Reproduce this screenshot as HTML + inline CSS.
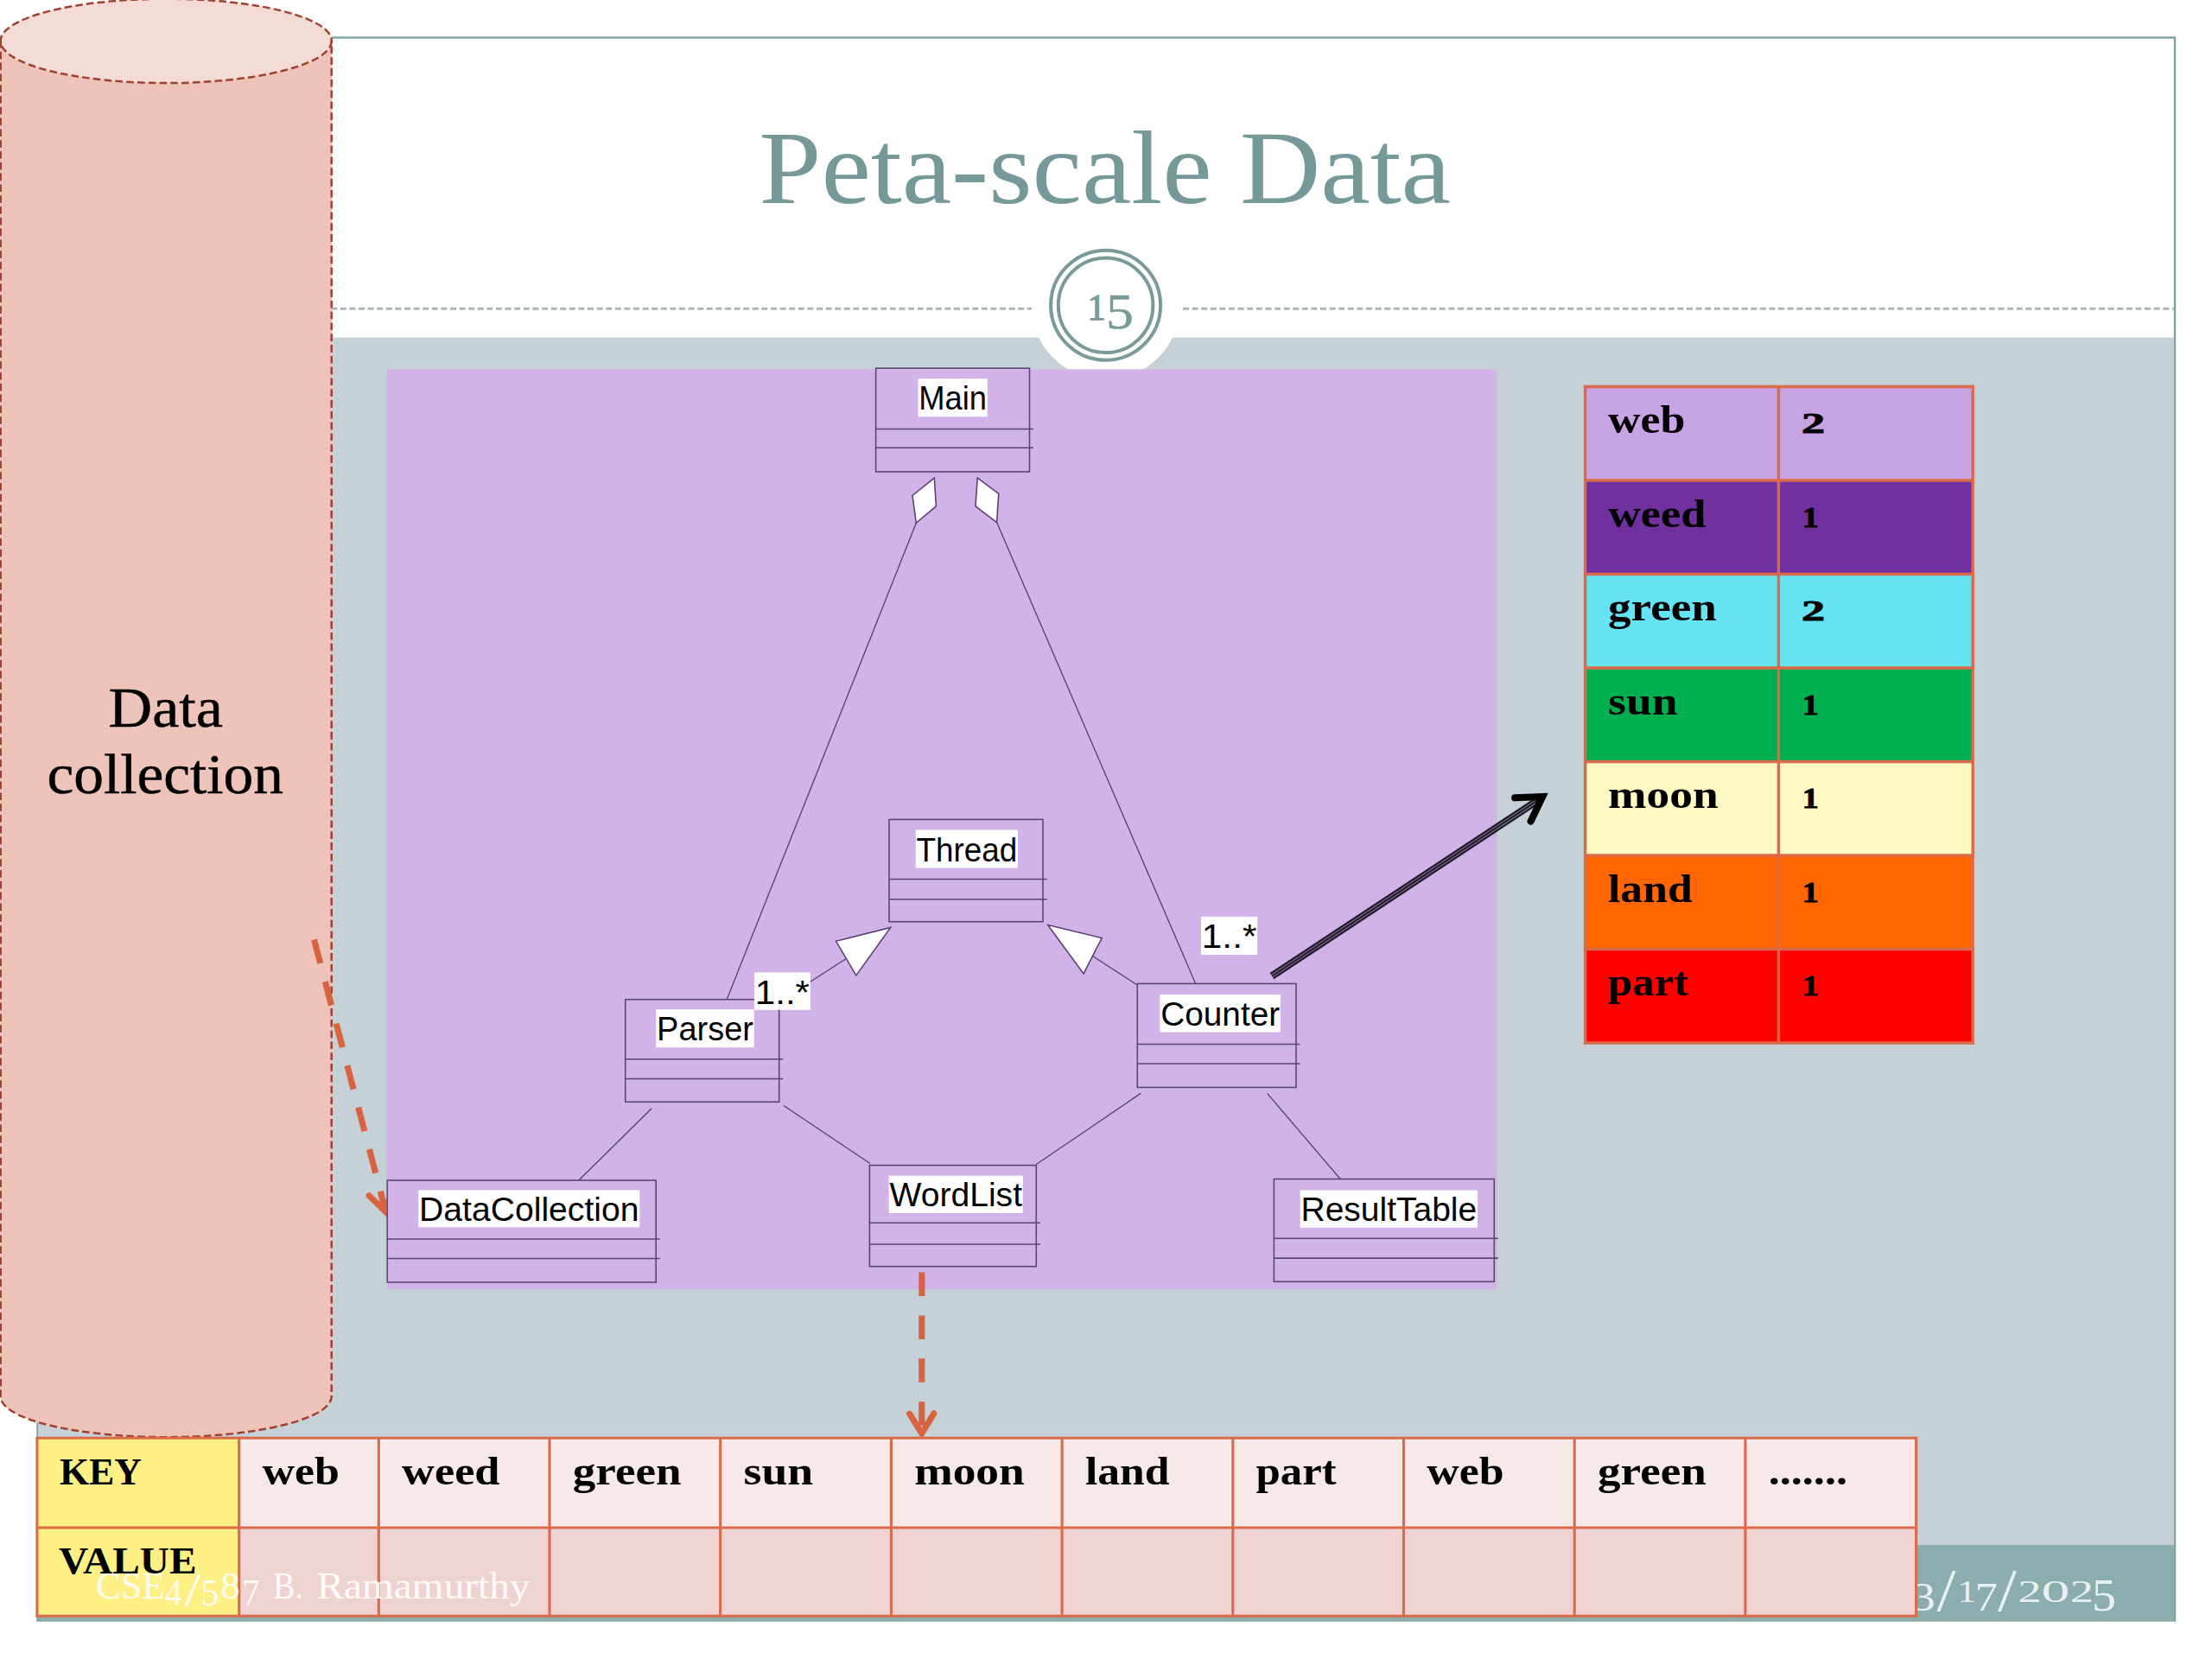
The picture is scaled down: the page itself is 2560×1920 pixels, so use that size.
<!DOCTYPE html>
<html><head><meta charset="utf-8"><title>Peta-scale Data</title>
<style>html,body{margin:0;padding:0;background:#fff;}body{width:2560px;height:1920px;overflow:hidden;position:relative;}svg{position:absolute;left:0;top:0;display:block;}.ser{font-family:"Liberation Serif",serif;}.san{font-family:"Liberation Sans",sans-serif;}.b{font-weight:bold;}</style></head><body>
<svg width="2560" height="1920" viewBox="0 0 2560 1920">
<rect x="0" y="0" width="2560" height="1920" fill="#ffffff"/>
<rect x="43.5" y="43.5" width="2473.5" height="1832" fill="#ffffff" stroke="#7FA1A1" stroke-width="2.4"/>
<rect x="44.5" y="390.6" width="2471.5" height="1398" fill="#C5D1D7"/>
<rect x="44.5" y="1788" width="2471.5" height="87.6" fill="#8CADAE"/>
<line x1="44" y1="357.2" x2="2516" y2="357.2" stroke="#ABB6B8" stroke-width="3" stroke-dasharray="7 3.6"/>
<circle cx="1279.6" cy="353.3" r="86" fill="#ffffff"/>
<circle cx="1279.6" cy="353.3" r="63.5" fill="none" stroke="#7A9A9A" stroke-width="4"/>
<circle cx="1279.6" cy="353.3" r="54.8" fill="none" stroke="#7A9A9A" stroke-width="4"/>
<text class="ser" x="1258.5" y="369.6" font-size="43" fill="#7A9A9A" stroke="#7A9A9A" stroke-width="1.3" textLength="21" lengthAdjust="spacingAndGlyphs">1</text>
<text class="ser" x="1280" y="380" font-size="58" fill="#7A9A9A" stroke="#7A9A9A" stroke-width="0.5" textLength="32" lengthAdjust="spacingAndGlyphs">5</text>
<text class="ser" x="878.5" y="235" font-size="121.5" fill="#759899" textLength="800.5" lengthAdjust="spacingAndGlyphs">Peta-scale Data</text>
<text class="ser" x="2212.5" y="1863.5" font-size="47" fill="#E9F0F0" textLength="27.5" lengthAdjust="spacingAndGlyphs">3</text>
<text class="ser" x="2241.5" y="1864" font-size="69" fill="#E9F0F0" textLength="22" lengthAdjust="spacingAndGlyphs">/</text>
<text class="ser" x="2265.5" y="1854.3" font-size="35" fill="#E9F0F0" textLength="21.5" lengthAdjust="spacingAndGlyphs">1</text>
<text class="ser" x="2285.5" y="1863.5" font-size="47" fill="#E9F0F0" textLength="26.5" lengthAdjust="spacingAndGlyphs">7</text>
<text class="ser" x="2312" y="1864" font-size="69" fill="#E9F0F0" textLength="22" lengthAdjust="spacingAndGlyphs">/</text>
<text class="ser" x="2335.3" y="1854.3" font-size="35" fill="#E9F0F0" textLength="27.3" lengthAdjust="spacingAndGlyphs">2</text>
<text class="ser" x="2362.5" y="1854.3" font-size="35" fill="#E9F0F0" textLength="33" lengthAdjust="spacingAndGlyphs">0</text>
<text class="ser" x="2395.8" y="1854.3" font-size="35" fill="#E9F0F0" textLength="27.3" lengthAdjust="spacingAndGlyphs">2</text>
<text class="ser" x="2421" y="1864" font-size="53" fill="#E9F0F0" textLength="28" lengthAdjust="spacingAndGlyphs">5</text>
<path d="M0,47 A192,48.5 0 0 1 384.4,47 L384.4,1616 A192.2,47.5 0 0 1 0,1616 Z" fill="#EEC3BA"/>
<ellipse cx="192.2" cy="47.4" rx="192.2" ry="49" fill="#F4DBD5"/>
<g fill="none" stroke="#A0412F" stroke-width="2.5" stroke-dasharray="8.6 4.2">
<ellipse cx="192.2" cy="47.4" rx="191.6" ry="48.7"/>
<path d="M0.7,47 L0.7,1616 A191.5,47.2 0 0 0 383.7,1616 L383.7,47"/>
</g>
<text class="ser" x="125.5" y="840.6" font-size="64.5" fill="#000" stroke="#000" stroke-width="0.5" textLength="132.5" lengthAdjust="spacingAndGlyphs">Data</text>
<text class="ser" x="54.5" y="917.5" font-size="64.5" fill="#000" stroke="#000" stroke-width="0.5" textLength="273.5" lengthAdjust="spacingAndGlyphs">collection</text>
<g fill="none" stroke="#D9623F" stroke-width="7.1">
<line x1="363.5" y1="1087.5" x2="446.5" y2="1402.5" stroke-dasharray="28.4 21.8"/>
<polyline points="427.1,1383.7 446.5,1402.5 454.1,1376.6" stroke-linecap="round" stroke-linejoin="miter"/>
</g>
<rect x="447.6" y="427.4" width="1284.9" height="1064.8" fill="#D1B3E9"/>
<line x1="1060.3" y1="605.3" x2="841.2" y2="1156.7" stroke="#553D6B" stroke-width="1.3"/>
<line x1="1153.6" y1="604.6" x2="1383.7" y2="1138.4" stroke="#553D6B" stroke-width="1.3"/>
<line x1="901.7" y1="1159.5" x2="979.2" y2="1109.5" stroke="#553D6B" stroke-width="1.3"/>
<line x1="1316.3" y1="1140" x2="1264.5" y2="1106.5" stroke="#553D6B" stroke-width="1.3"/>
<line x1="754" y1="1283" x2="669.8" y2="1366" stroke="#553D6B" stroke-width="1.3"/>
<line x1="906.9" y1="1279.5" x2="1007" y2="1346.5" stroke="#553D6B" stroke-width="1.3"/>
<line x1="1320.3" y1="1265.4" x2="1199.3" y2="1347.5" stroke="#553D6B" stroke-width="1.3"/>
<line x1="1466.6" y1="1265.4" x2="1551.2" y2="1364.5" stroke="#553D6B" stroke-width="1.3"/>
<polygon points="1081.3,553.2 1083.4,585.8 1060.3,605.3 1056,573.5" fill="#ffffff" stroke="#5C4173" stroke-width="1.6" stroke-linejoin="miter"/>
<polygon points="1131.2,553.2 1155.8,571.3 1153.6,604.6 1129,585.8" fill="#ffffff" stroke="#5C4173" stroke-width="1.6" stroke-linejoin="miter"/>
<polygon points="1030.7,1073.4 967.6,1089.3 990.8,1128.9" fill="#ffffff" stroke="#5C4173" stroke-width="1.6" stroke-linejoin="miter"/>
<polygon points="1212.7,1070.5 1275.2,1085.5 1254.1,1126.9" fill="#ffffff" stroke="#5C4173" stroke-width="1.6" stroke-linejoin="miter"/>
<rect x="1013.6" y="426.2" width="177.9" height="119.8" fill="none" stroke="#5C4173" stroke-width="1.55"/>
<line x1="1013.6" y1="496.4" x2="1196.0" y2="496.4" stroke="#5C4173" stroke-width="1.55"/>
<line x1="1013.6" y1="518.2" x2="1196.0" y2="518.2" stroke="#5C4173" stroke-width="1.55"/>
<rect x="1062.5" y="438.2" width="80.3" height="44.1" fill="#ffffff"/>
<text class="san" x="1063.3" y="474.4" font-size="38.5" fill="#000" textLength="78.7" lengthAdjust="spacingAndGlyphs">Main</text>
<rect x="1029" y="948.4" width="178.0" height="118.3" fill="none" stroke="#5C4173" stroke-width="1.55"/>
<line x1="1029" y1="1017.5" x2="1211.5" y2="1017.5" stroke="#5C4173" stroke-width="1.55"/>
<line x1="1029" y1="1040.7" x2="1211.5" y2="1040.7" stroke="#5C4173" stroke-width="1.55"/>
<rect x="1059.7" y="960.5" width="118.3" height="44.0" fill="#ffffff"/>
<text class="san" x="1060.5" y="996.7" font-size="38.5" fill="#000" textLength="116.7" lengthAdjust="spacingAndGlyphs">Thread</text>
<rect x="723.7" y="1156.7" width="178.0" height="118.6" fill="none" stroke="#5C4173" stroke-width="1.55"/>
<line x1="723.7" y1="1225.8" x2="906.2" y2="1225.8" stroke="#5C4173" stroke-width="1.55"/>
<line x1="723.7" y1="1248.4" x2="906.2" y2="1248.4" stroke="#5C4173" stroke-width="1.55"/>
<rect x="759.3" y="1168.3" width="113.4" height="43.9" fill="#ffffff"/>
<text class="san" x="760.1" y="1204.4" font-size="38.5" fill="#000" textLength="111.8" lengthAdjust="spacingAndGlyphs">Parser</text>
<rect x="1316.3" y="1138.4" width="183.7" height="120.1" fill="none" stroke="#5C4173" stroke-width="1.55"/>
<line x1="1316.3" y1="1208.4" x2="1504.5" y2="1208.4" stroke="#5C4173" stroke-width="1.55"/>
<line x1="1316.3" y1="1231" x2="1504.5" y2="1231" stroke="#5C4173" stroke-width="1.55"/>
<rect x="1342.4" y="1151" width="139.6" height="43.5" fill="#ffffff"/>
<text class="san" x="1343.2" y="1186.7" font-size="38.5" fill="#000" textLength="138.0" lengthAdjust="spacingAndGlyphs">Counter</text>
<rect x="448.2" y="1366" width="311.0" height="118.0" fill="none" stroke="#5C4173" stroke-width="1.55"/>
<line x1="448.2" y1="1434" x2="763.7" y2="1434" stroke="#5C4173" stroke-width="1.55"/>
<line x1="448.2" y1="1456.5" x2="763.7" y2="1456.5" stroke="#5C4173" stroke-width="1.55"/>
<rect x="484.3" y="1377.4" width="256.0" height="43.0" fill="#ffffff"/>
<text class="san" x="485.1" y="1412.8" font-size="38.5" fill="#000" textLength="254.4" lengthAdjust="spacingAndGlyphs">DataCollection</text>
<rect x="1006.4" y="1348.6" width="192.9" height="117.1" fill="none" stroke="#5C4173" stroke-width="1.55"/>
<line x1="1006.4" y1="1415.2" x2="1203.8" y2="1415.2" stroke="#5C4173" stroke-width="1.55"/>
<line x1="1006.4" y1="1440" x2="1203.8" y2="1440" stroke="#5C4173" stroke-width="1.55"/>
<rect x="1028.7" y="1360.6" width="155.1" height="43.4" fill="#ffffff"/>
<text class="san" x="1029.5" y="1396.2" font-size="38.5" fill="#000" textLength="153.5" lengthAdjust="spacingAndGlyphs">WordList</text>
<rect x="1474.4" y="1364.5" width="254.9" height="118.8" fill="none" stroke="#5C4173" stroke-width="1.55"/>
<line x1="1474.4" y1="1433.2" x2="1733.8" y2="1433.2" stroke="#5C4173" stroke-width="1.55"/>
<line x1="1474.4" y1="1456.1" x2="1733.8" y2="1456.1" stroke="#5C4173" stroke-width="1.55"/>
<rect x="1504.7" y="1377.5" width="205.3" height="43.4" fill="#ffffff"/>
<text class="san" x="1505.5" y="1412.8" font-size="38.5" fill="#000" textLength="203.7" lengthAdjust="spacingAndGlyphs">ResultTable</text>
<rect x="873" y="1125.4" width="64.8" height="43.4" fill="#ffffff"/>
<text class="san" x="873.8" y="1161.5" font-size="38.5" fill="#000" textLength="63.2" lengthAdjust="spacingAndGlyphs">1..*</text>
<rect x="1390" y="1060.8" width="65.2" height="44.2" fill="#ffffff"/>
<text class="san" x="1390.8" y="1097" font-size="38.5" fill="#000" textLength="63.6" lengthAdjust="spacingAndGlyphs">1..*</text>
<rect x="1835" y="447.5" width="448" height="108.5" fill="#C9A4E4"/>
<rect x="1835" y="556.0" width="448" height="108.5" fill="#7030A0"/>
<rect x="1835" y="664.5" width="448" height="108.5" fill="#66E3F3"/>
<rect x="1835" y="773.0" width="448" height="108.5" fill="#00B050"/>
<rect x="1835" y="881.5" width="448" height="108.5" fill="#FFF8C3"/>
<rect x="1835" y="990.0" width="448" height="108.5" fill="#FF6600"/>
<rect x="1835" y="1098.5" width="448" height="108.5" fill="#FF0000"/>
<line x1="1832.9" y1="447.5" x2="2284.9" y2="447.5" stroke="#DB6A4B" stroke-width="3.4"/>
<line x1="1832.9" y1="556.0" x2="2284.9" y2="556.0" stroke="#DB6A4B" stroke-width="3.4"/>
<line x1="1832.9" y1="664.5" x2="2284.9" y2="664.5" stroke="#DB6A4B" stroke-width="3.4"/>
<line x1="1832.9" y1="773.0" x2="2284.9" y2="773.0" stroke="#DB6A4B" stroke-width="3.4"/>
<line x1="1832.9" y1="881.5" x2="2284.9" y2="881.5" stroke="#DB6A4B" stroke-width="3.4"/>
<line x1="1832.9" y1="990.0" x2="2284.9" y2="990.0" stroke="#DB6A4B" stroke-width="3.4"/>
<line x1="1832.9" y1="1098.5" x2="2284.9" y2="1098.5" stroke="#DB6A4B" stroke-width="3.4"/>
<line x1="1832.9" y1="1207.0" x2="2284.9" y2="1207.0" stroke="#DB6A4B" stroke-width="3.4"/>
<line x1="1834.6" y1="445.8" x2="1834.6" y2="1208.7" stroke="#DB6A4B" stroke-width="3.4"/>
<line x1="2058.4" y1="445.8" x2="2058.4" y2="1208.7" stroke="#DB6A4B" stroke-width="3.4"/>
<line x1="2283.2" y1="445.8" x2="2283.2" y2="1208.7" stroke="#DB6A4B" stroke-width="3.4"/>
<text class="ser b" x="1861.0" y="501.1" font-size="47" fill="#000" textLength="89.4" lengthAdjust="spacingAndGlyphs">web</text>
<text class="ser b" x="2085.0" y="501.1" font-size="33.5" fill="#000" stroke="#000" stroke-width="0.9" textLength="27" lengthAdjust="spacingAndGlyphs">2</text>
<text class="ser b" x="1861.0" y="609.6" font-size="47" fill="#000" textLength="113.4" lengthAdjust="spacingAndGlyphs">weed</text>
<text class="ser b" x="2085.8" y="609.6" font-size="33" fill="#000" stroke="#000" stroke-width="0.9" textLength="19" lengthAdjust="spacingAndGlyphs">1</text>
<text class="ser b" x="1861.0" y="718.1" font-size="47" fill="#000" textLength="125.8" lengthAdjust="spacingAndGlyphs">green</text>
<text class="ser b" x="2085.0" y="718.1" font-size="33.5" fill="#000" stroke="#000" stroke-width="0.9" textLength="27" lengthAdjust="spacingAndGlyphs">2</text>
<text class="ser b" x="1861.0" y="826.6" font-size="47" fill="#000" textLength="80.6" lengthAdjust="spacingAndGlyphs">sun</text>
<text class="ser b" x="2085.8" y="826.6" font-size="33" fill="#000" stroke="#000" stroke-width="0.9" textLength="19" lengthAdjust="spacingAndGlyphs">1</text>
<text class="ser b" x="1861.0" y="935.1" font-size="47" fill="#000" textLength="127.6" lengthAdjust="spacingAndGlyphs">moon</text>
<text class="ser b" x="2085.8" y="935.1" font-size="33" fill="#000" stroke="#000" stroke-width="0.9" textLength="19" lengthAdjust="spacingAndGlyphs">1</text>
<text class="ser b" x="1861.0" y="1043.6" font-size="47" fill="#000" textLength="97.6" lengthAdjust="spacingAndGlyphs">land</text>
<text class="ser b" x="2085.8" y="1043.6" font-size="33" fill="#000" stroke="#000" stroke-width="0.9" textLength="19" lengthAdjust="spacingAndGlyphs">1</text>
<text class="ser b" x="1861.0" y="1152.1" font-size="47" fill="#000" textLength="93.1" lengthAdjust="spacingAndGlyphs">part</text>
<text class="ser b" x="2085.8" y="1152.1" font-size="33" fill="#000" stroke="#000" stroke-width="0.9" textLength="19" lengthAdjust="spacingAndGlyphs">1</text>
<g stroke="#000" fill="none">
<line x1="1472" y1="1129.6" x2="1783" y2="924.1" stroke="#000" stroke-opacity="0.45" stroke-width="9"/>
<line x1="1470.29" y1="1127.01" x2="1781.29" y2="921.51" stroke="#1a1222" stroke-width="1.7"/>
<line x1="1472.00" y1="1129.60" x2="1783.00" y2="924.10" stroke="#1a1222" stroke-width="1.7"/>
<line x1="1473.71" y1="1132.19" x2="1784.71" y2="926.69" stroke="#1a1222" stroke-width="1.7"/>
<polyline points="1753.2,923.3 1785.2,922 1771.6,950.5" stroke-width="8.1" stroke-linejoin="miter" stroke-linecap="round"/>
</g>
<g fill="none" stroke="#D9623F" stroke-width="7.1">
<line x1="1066.8" y1="1472.5" x2="1066.8" y2="1660" stroke-dasharray="27.5 22.4"/>
<polyline points="1052.6,1636.2 1066.8,1659 1080.8,1635.8" stroke-linecap="round" stroke-linejoin="miter"/>
</g>
<rect x="42.9" y="1664.2" width="233.8" height="206.1" fill="#FFF085"/>
<rect x="276.7" y="1664.2" width="1940.9" height="103.8" fill="#F8E9E9"/>
<rect x="276.7" y="1768" width="1940.9" height="102.3" fill="#EFD3D3"/>
<line x1="41.35" y1="1664.2" x2="2219.2" y2="1664.2" stroke="#DB6A4B" stroke-width="3.1"/>
<line x1="41.35" y1="1768" x2="2219.2" y2="1768" stroke="#DB6A4B" stroke-width="3.1"/>
<line x1="41.35" y1="1870.3" x2="2219.2" y2="1870.3" stroke="#DB6A4B" stroke-width="3.1"/>
<line x1="42.9" y1="1664.2" x2="42.9" y2="1870.3" stroke="#DB6A4B" stroke-width="3.1"/>
<line x1="276.7" y1="1664.2" x2="276.7" y2="1870.3" stroke="#DB6A4B" stroke-width="3.1"/>
<line x1="438.3" y1="1664.2" x2="438.3" y2="1870.3" stroke="#DB6A4B" stroke-width="3.1"/>
<line x1="636.0" y1="1664.2" x2="636.0" y2="1870.3" stroke="#DB6A4B" stroke-width="3.1"/>
<line x1="833.7" y1="1664.2" x2="833.7" y2="1870.3" stroke="#DB6A4B" stroke-width="3.1"/>
<line x1="1031.4" y1="1664.2" x2="1031.4" y2="1870.3" stroke="#DB6A4B" stroke-width="3.1"/>
<line x1="1229.1" y1="1664.2" x2="1229.1" y2="1870.3" stroke="#DB6A4B" stroke-width="3.1"/>
<line x1="1426.8" y1="1664.2" x2="1426.8" y2="1870.3" stroke="#DB6A4B" stroke-width="3.1"/>
<line x1="1624.5" y1="1664.2" x2="1624.5" y2="1870.3" stroke="#DB6A4B" stroke-width="3.1"/>
<line x1="1822.2" y1="1664.2" x2="1822.2" y2="1870.3" stroke="#DB6A4B" stroke-width="3.1"/>
<line x1="2019.9" y1="1664.2" x2="2019.9" y2="1870.3" stroke="#DB6A4B" stroke-width="3.1"/>
<line x1="2217.6" y1="1664.2" x2="2217.6" y2="1870.3" stroke="#DB6A4B" stroke-width="3.1"/>
<text class="ser b" x="69" y="1718" font-size="43.5" fill="#000" textLength="95" lengthAdjust="spacingAndGlyphs">KEY</text>
<text class="ser b" x="68" y="1821.4" font-size="43.5" fill="#000" textLength="159.5" lengthAdjust="spacingAndGlyphs">VALUE</text>
<text class="ser b" x="303.5" y="1718.0" font-size="47" fill="#000" textLength="89.4" lengthAdjust="spacingAndGlyphs">web</text>
<text class="ser b" x="465.1" y="1718.0" font-size="47" fill="#000" textLength="113.4" lengthAdjust="spacingAndGlyphs">weed</text>
<text class="ser b" x="662.8" y="1718.0" font-size="47" fill="#000" textLength="125.8" lengthAdjust="spacingAndGlyphs">green</text>
<text class="ser b" x="860.5" y="1718.0" font-size="47" fill="#000" textLength="80.6" lengthAdjust="spacingAndGlyphs">sun</text>
<text class="ser b" x="1058.2" y="1718.0" font-size="47" fill="#000" textLength="127.6" lengthAdjust="spacingAndGlyphs">moon</text>
<text class="ser b" x="1255.9" y="1718.0" font-size="47" fill="#000" textLength="97.6" lengthAdjust="spacingAndGlyphs">land</text>
<text class="ser b" x="1453.6" y="1718.0" font-size="47" fill="#000" textLength="93.1" lengthAdjust="spacingAndGlyphs">part</text>
<text class="ser b" x="1651.3" y="1718.0" font-size="47" fill="#000" textLength="89.4" lengthAdjust="spacingAndGlyphs">web</text>
<text class="ser b" x="1849.0" y="1718.0" font-size="47" fill="#000" textLength="125.8" lengthAdjust="spacingAndGlyphs">green</text>
<text class="ser b" x="2046.7" y="1718.0" font-size="47" fill="#000" textLength="91.3" lengthAdjust="spacingAndGlyphs">.......</text>
<text class="ser" x="111" y="1849.5" font-size="43.5" fill="#ffffff" fill-opacity="0.92" textLength="80" lengthAdjust="spacingAndGlyphs">CSE</text>
<text class="ser" x="190.8" y="1857.5" font-size="43.5" fill="#ffffff" fill-opacity="0.92" textLength="20" lengthAdjust="spacingAndGlyphs">4</text>
<text class="ser" x="213.5" y="1857.5" font-size="55" fill="#ffffff" fill-opacity="0.92" textLength="18.5" lengthAdjust="spacingAndGlyphs">/</text>
<text class="ser" x="232.5" y="1858" font-size="43.5" fill="#ffffff" fill-opacity="0.92" textLength="21" lengthAdjust="spacingAndGlyphs">5</text>
<text class="ser" x="255.3" y="1849.5" font-size="43.5" fill="#ffffff" fill-opacity="0.92" textLength="22.5" lengthAdjust="spacingAndGlyphs">8</text>
<text class="ser" x="280.5" y="1858" font-size="43.5" fill="#ffffff" fill-opacity="0.92" textLength="20" lengthAdjust="spacingAndGlyphs">7</text>
<text class="ser" x="316" y="1849.5" font-size="43.5" fill="#ffffff" fill-opacity="0.92" textLength="35" lengthAdjust="spacingAndGlyphs">B.</text>
<text class="ser" x="366.5" y="1849.5" font-size="43.5" fill="#ffffff" fill-opacity="0.92" textLength="247" lengthAdjust="spacingAndGlyphs">Ramamurthy</text>
</svg></body></html>
